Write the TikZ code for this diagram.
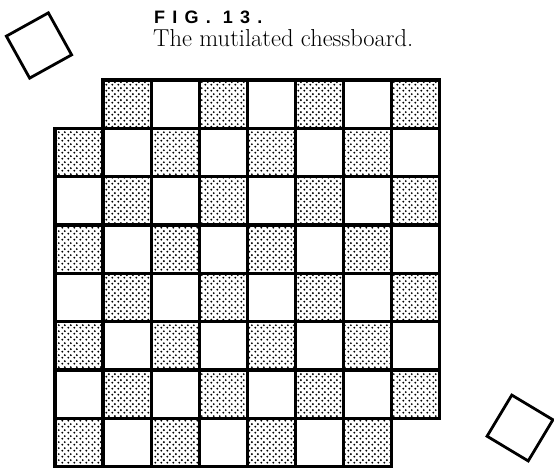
\documentclass[tikz,border=0pt]{standalone}
\usepackage{fontspec}
\usepackage{tikz}
\usetikzlibrary{patterns}

\newfontfamily\figfont[LetterSpace=40, BoldFont={Liberation Sans Bold}]{Liberation Sans}

% Trama de puntos para las casillas oscuras
\pgfdeclarepatternformonly{puntos}{\pgfpointorigin}{\pgfpoint{5.5pt}{5.5pt}}{\pgfpoint{5.5pt}{5.5pt}}{
    \pgfpathcircle{\pgfpoint{1.4pt}{1.4pt}}{1.1pt}
    \pgfpathcircle{\pgfpoint{4.15pt}{4.15pt}}{1.1pt}
    \pgfusepath{fill}
}

\tikzset{
    casilla/.style={draw=black, line width=3.3pt},
    oscura/.style={casilla, pattern=puntos, pattern color=black},
    suelta/.style={draw=black, line width=2.8pt, line join=miter}
}

\begin{document}
\begin{tikzpicture}[x=1pt, y=1pt]

    \useasboundingbox (0,0) rectangle (554,469);

    % Tablero 8x8 sin dos esquinas opuestas
    \foreach \r in {0,...,7}{
        \foreach \c in {0,...,7}{
            \pgfmathsetmacro{\xa}{55+\c*48.1}
            \pgfmathsetmacro{\ya}{2.5+\r*48.3}
            \pgfmathsetmacro{\xb}{\xa+48.1}
            \pgfmathsetmacro{\yb}{\ya+48.3}
            \pgfmathtruncatemacro{\paridad}{mod(\r+\c,2)}
            \pgfmathtruncatemacro{\fuera}{(\c==0 && \r==7) || (\c==7 && \r==0)}
            \ifnum\fuera=0
                \ifnum\paridad=0
                    \path[oscura] (\xa,\ya) rectangle (\xb,\yb);
                \else
                    \path[casilla] (\xa,\ya) rectangle (\xb,\yb);
                \fi
            \fi
        }
    }

    % Casillas retiradas
    \draw[suelta, shift={(39,423.5)}, rotate=29]
        (-24,-24) rectangle (24,24);
    \draw[suelta, shift={(520,41)}, rotate=-31]
        (-24,-24) rectangle (24,24);

    % Etiquetas
    \node[anchor=base west, inner sep=0pt, font=\fontsize{18}{20}\selectfont\figfont\bfseries]
        (fig) at (154,445.5) {FIG. 13.};
    \node[anchor=base west, inner sep=0pt, font=\fontsize{24.5}{27}\selectfont]
        (titulo) at (153,422) {The mutilated chessboard.};
\end{tikzpicture}
\end{document}
